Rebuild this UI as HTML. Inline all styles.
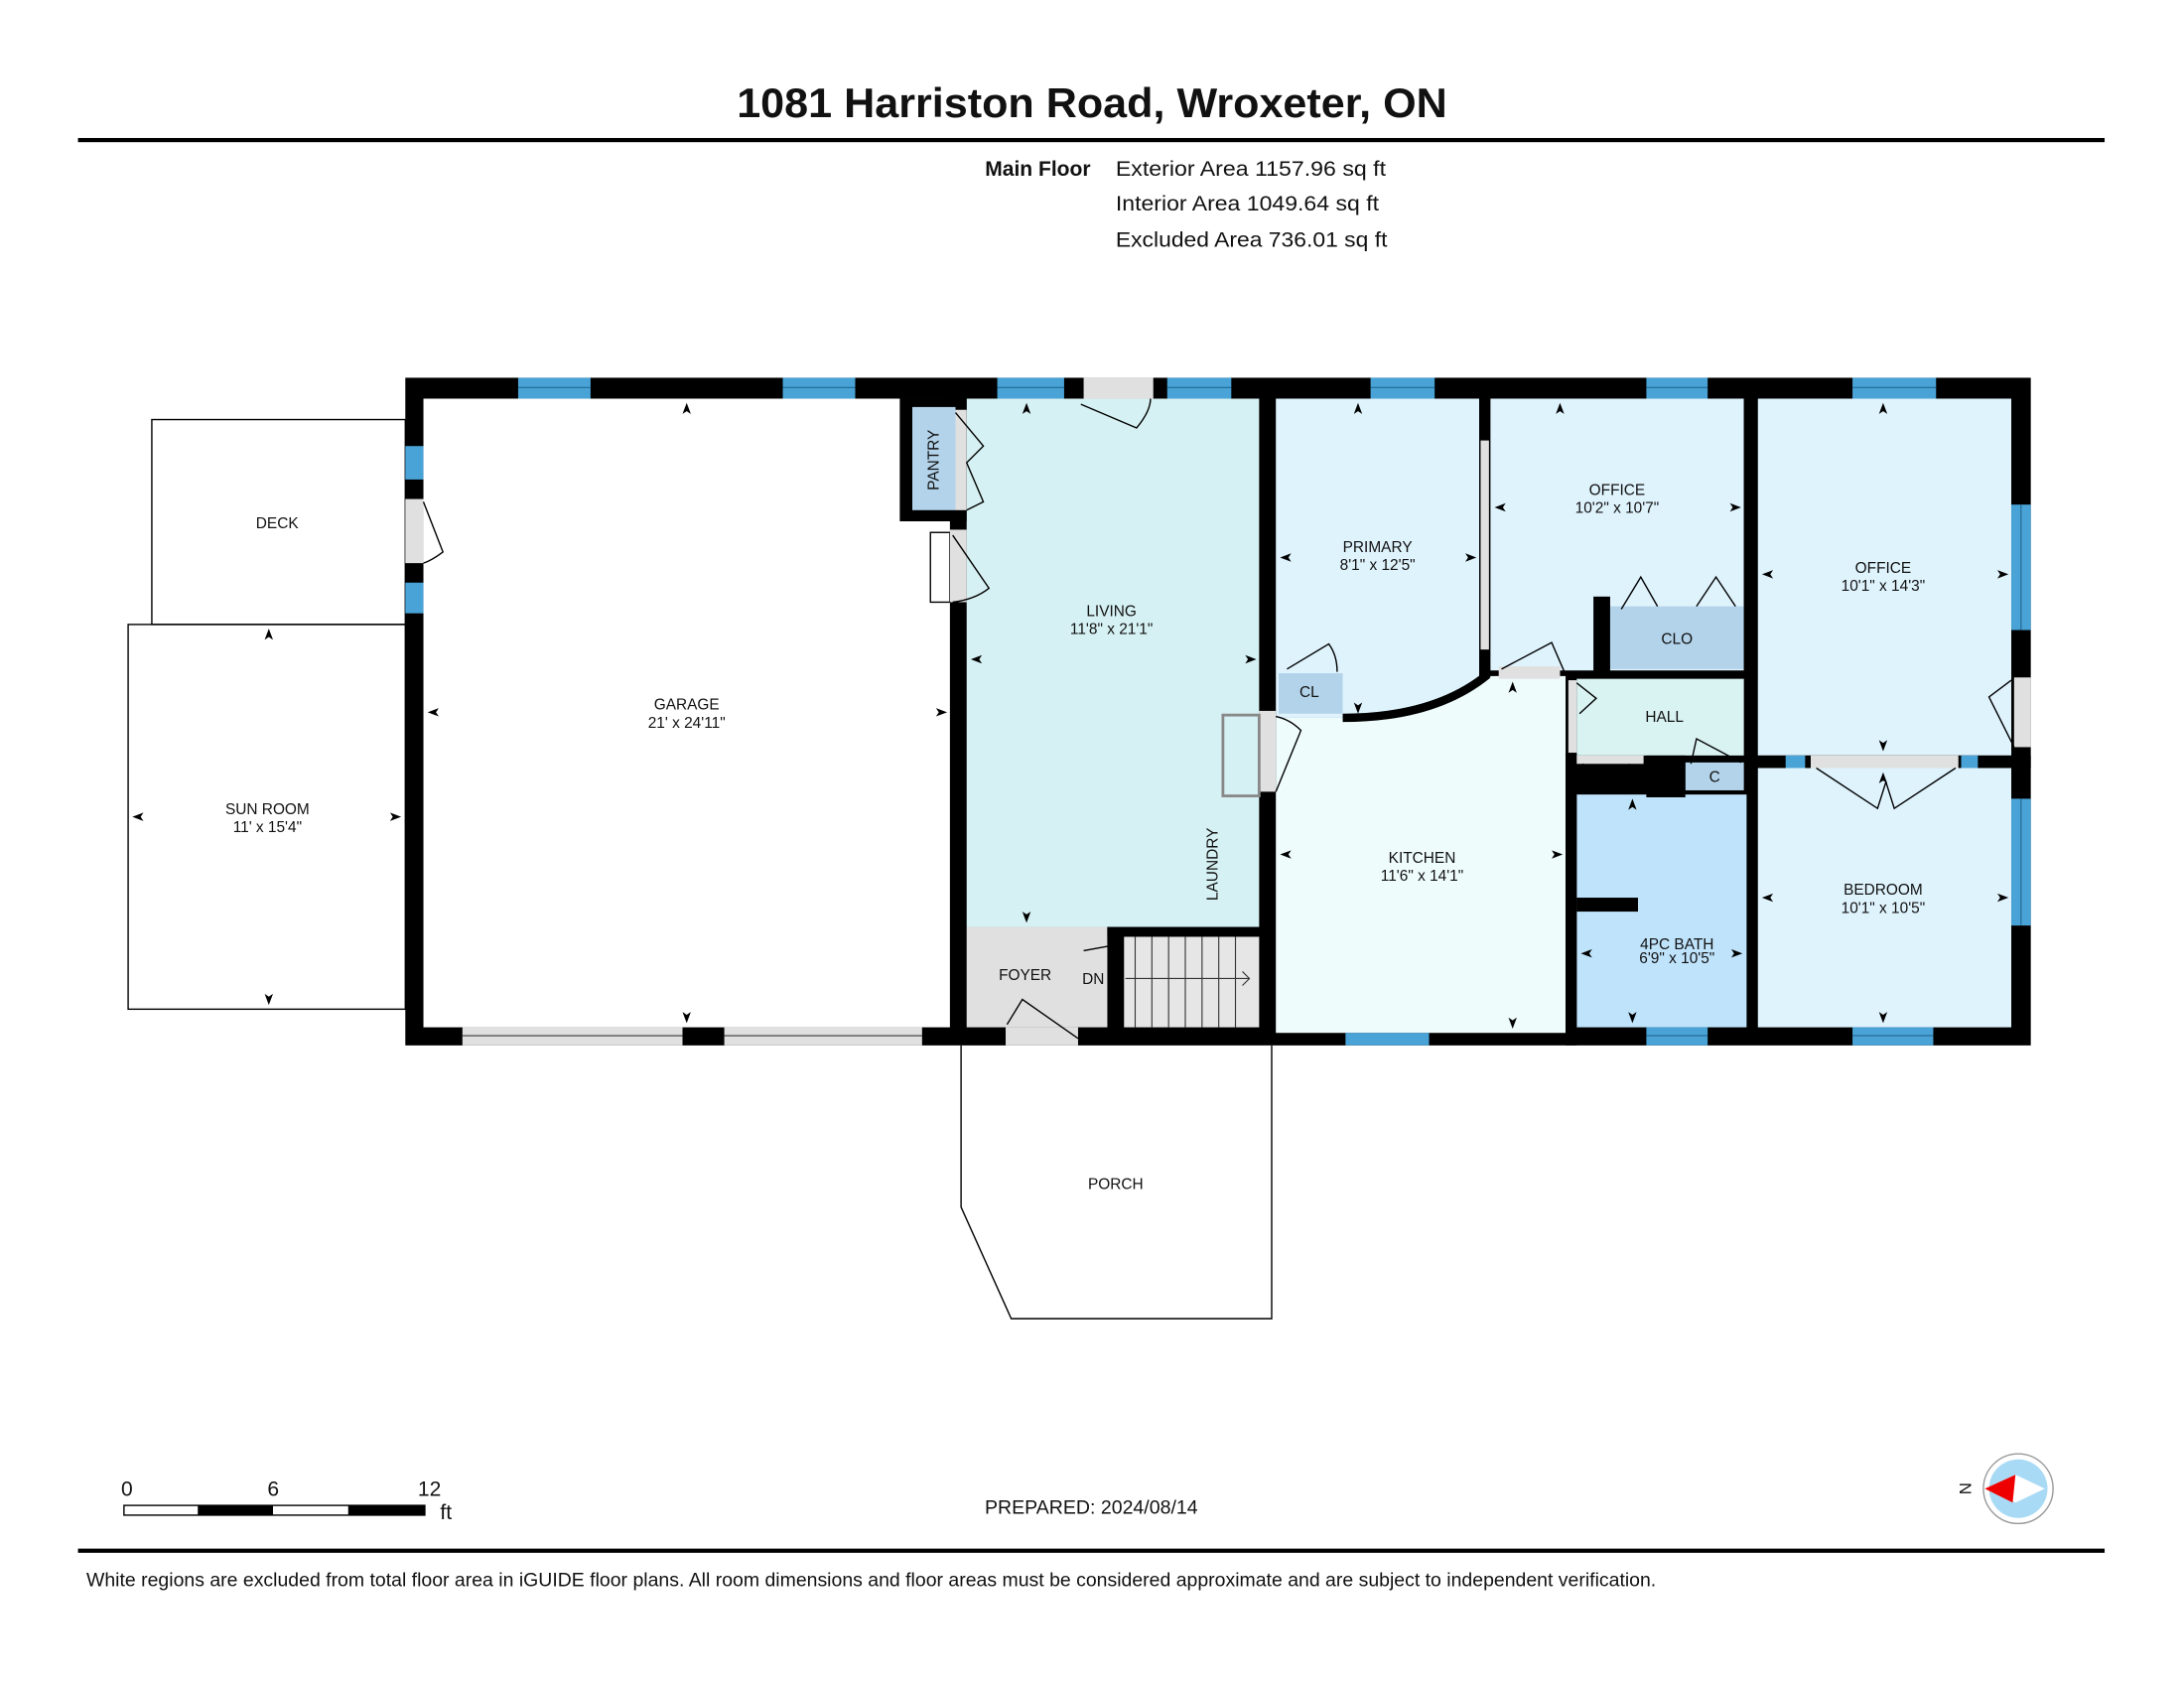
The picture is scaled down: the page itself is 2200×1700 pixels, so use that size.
<!DOCTYPE html>
<html><head><meta charset="utf-8"><style>
html,body{margin:0;padding:0;background:#fff}
svg{display:block}
text{font-family:"Liberation Sans",sans-serif;fill:#111}
.r{font-size:11px;text-anchor:middle}
</style></head><body>
<svg width="2200" height="1700" viewBox="0 0 1568 1211" preserveAspectRatio="none" xmlns="http://www.w3.org/2000/svg">
<rect width="1568" height="1211" fill="#fff"/>
<!-- header -->
<text x="784" y="84" font-size="30" font-weight="bold" text-anchor="middle" textLength="510" lengthAdjust="spacingAndGlyphs">1081 Harriston Road, Wroxeter, ON</text>
<rect x="56" y="99" width="1455" height="3" fill="#000"/>
<text x="783" y="126" font-size="15" font-weight="bold" text-anchor="end">Main Floor</text>
<text x="801" y="126" font-size="15" textLength="194" lengthAdjust="spacingAndGlyphs">Exterior Area 1157.96 sq ft</text>
<text x="801" y="151" font-size="15" textLength="189" lengthAdjust="spacingAndGlyphs">Interior Area 1049.64 sq ft</text>
<text x="801" y="177" font-size="15" textLength="195" lengthAdjust="spacingAndGlyphs">Excluded Area 736.01 sq ft</text>

<!-- excluded outlines -->
<g fill="none" stroke="#000" stroke-width="1">
<rect x="109" y="301" width="182" height="147"/>
<rect x="92" y="448" width="199" height="276"/>
<polyline points="690,750 690,866 726,946 913,946 913,750"/>
</g>

<!-- room fills -->
<rect x="291" y="271" width="1167" height="479" fill="#000"/>
<rect x="304" y="286" width="378" height="451" fill="#fff"/>
<rect x="694" y="286" width="210" height="379" fill="#d6f1f3"/>
<rect x="694" y="665" width="101" height="72" fill="#e0e0e0"/>
<rect x="807" y="672" width="97" height="65" fill="#e6e6e6"/>
<rect x="916" y="286" width="146" height="229" fill="#dff3fd"/>
<rect x="1070" y="286" width="182" height="195" fill="#dff3fd"/>
<rect x="1262" y="286" width="182" height="256" fill="#dff3fd"/>
<rect x="1262" y="551" width="182" height="186" fill="#dff3fd"/>
<path d="M916,515 L968,515 Q1030,515 1070,485 L1124,485 L1124,741 L916,741 Z" fill="#effcfc"/>
<rect x="1132" y="487" width="130" height="55" fill="#d9f2f2"/>
<rect x="1132" y="570" width="122" height="167" fill="#bfe3fb"/>
<rect x="1156" y="435" width="96" height="45" fill="#b3d3ea"/>
<rect x="918" y="483" width="46" height="29" fill="#b3d3ea"/>
<rect x="1210" y="547" width="42" height="20" fill="#b3d3ea"/>
<rect x="646" y="286" width="48" height="88" fill="#000"/>
<rect x="655" y="292" width="31" height="74" fill="#b3d3ea"/>
<!-- interior wall fixes -->
<rect x="1124" y="540" width="8" height="210" fill="#000"/>
<rect x="1132" y="644" width="44" height="10" fill="#000"/>
<rect x="1182" y="542" width="28" height="30" fill="#000"/>
<rect x="1254" y="542" width="8" height="200" fill="#000"/>
<rect x="1062" y="286" width="8" height="200" fill="#000"/>
<rect x="1063" y="316" width="6" height="150" fill="#e0e0e0"/>
<rect x="1144" y="428" width="12" height="57" fill="#000"/>
<path d="M964,515 Q1030,515 1068,484" fill="none" stroke="#000" stroke-width="6"/>
<rect x="1252" y="286" width="10" height="260" fill="#000"/>
<rect x="1262" y="542" width="196" height="9" fill="#000"/>
<rect x="1300" y="542" width="106" height="9" fill="#e0e0e0"/>
<rect x="1076" y="478" width="44" height="9" fill="#e0e0e0"/>
<rect x="1126" y="488" width="6" height="52" fill="#e0e0e0"/>
<rect x="1132" y="542" width="48" height="6" fill="#e0e0e0"/>
<rect x="1446" y="486" width="12" height="50" fill="#e0e0e0"/>
<rect x="904" y="510" width="12" height="58" fill="#e0e0e0"/>
<rect x="878" y="513" width="26" height="58" fill="#d6f1f3" stroke="#888" stroke-width="2"/>
<rect x="291" y="358" width="13" height="46" fill="#e0e0e0"/>
<rect x="668" y="382" width="14" height="50" fill="#fff" stroke="#000" stroke-width="1"/>
<rect x="682" y="380" width="12" height="52" fill="#e0e0e0"/>
<rect x="686" y="294" width="8" height="72" fill="#e0e0e0"/>
<rect x="778" y="271" width="50" height="15" fill="#e0e0e0"/>
<rect x="722" y="737" width="52" height="13" fill="#e0e0e0"/>
<rect x="332" y="737" width="158" height="13" fill="#e0e0e0"/>
<rect x="520" y="737" width="142" height="13" fill="#e0e0e0"/>
<line x1="332" y1="743" x2="490" y2="743" stroke="#555"/>
<line x1="520" y1="743" x2="662" y2="743" stroke="#555"/>
<!-- stairs walls -->
<rect x="795" y="665" width="109" height="7" fill="#000"/>
<rect x="795" y="665" width="7" height="12" fill="#000"/>
<g stroke="#333" stroke-width="0.8">
<line x1="815" y1="672" x2="815" y2="737"/><line x1="827" y1="672" x2="827" y2="737"/>
<line x1="839" y1="672" x2="839" y2="737"/><line x1="851" y1="672" x2="851" y2="737"/>
<line x1="863" y1="672" x2="863" y2="737"/><line x1="875" y1="672" x2="875" y2="737"/>
<line x1="887" y1="672" x2="887" y2="737"/>
<line x1="808" y1="702" x2="897" y2="702"/><polyline points="892,697 897,702 892,707" fill="none"/>
</g>

<!-- windows -->
<g fill="#4aa3d6">
<rect x="372" y="271" width="52" height="15"/><rect x="562" y="271" width="52" height="15"/>
<rect x="716" y="271" width="48" height="15"/><rect x="838" y="271" width="46" height="15"/>
<rect x="984" y="271" width="46" height="15"/><rect x="1182" y="271" width="44" height="15"/>
<rect x="1330" y="271" width="60" height="15"/>
<rect x="966" y="741" width="60" height="9"/><rect x="1182" y="737" width="44" height="13"/>
<rect x="1330" y="737" width="58" height="13"/>
<rect x="1444" y="362" width="14" height="90"/><rect x="1444" y="573" width="14" height="91"/>
<rect x="291" y="320" width="13" height="24"/><rect x="291" y="418" width="13" height="22"/>
<rect x="1282" y="542" width="14" height="9"/><rect x="1408" y="542" width="12" height="9"/>
</g>
<g stroke="#1b5f8a" stroke-width="0.7">
<line x1="372" y1="278" x2="424" y2="278"/><line x1="562" y1="278" x2="614" y2="278"/>
<line x1="716" y1="278" x2="764" y2="278"/><line x1="838" y1="278" x2="884" y2="278"/>
<line x1="984" y1="278" x2="1030" y2="278"/><line x1="1182" y1="278" x2="1226" y2="278"/>
<line x1="1330" y1="278" x2="1390" y2="278"/><line x1="1182" y1="743" x2="1226" y2="743"/>
<line x1="1330" y1="743" x2="1388" y2="743"/><line x1="1451" y1="362" x2="1451" y2="452"/>
<line x1="1451" y1="573" x2="1451" y2="664"/>
</g>

<!-- door swings -->
<g fill="none" stroke="#000" stroke-width="1">
<path d="M776,290 L816,307 Q826,295 826,286"/>
<path d="M304,360 L318,396 Q310,402 304,404"/>
<path d="M686,296 L706,320 L694,332 L706,360 L694,366"/>
<path d="M684,384 L710,422 Q700,430 684,432"/>
<path d="M916,568 L934,524 Q926,516 916,514"/>
<path d="M924,480 L954,462 Q960,470 960,482"/>
<path d="M1078,480 L1114,461 L1124,484"/>
<path d="M1164,437 L1178,414 L1190,435"/>
<path d="M1218,435 L1232,414 L1246,435"/>
<path d="M1132,490 L1146,501 L1134,512"/>
<path d="M1136,548 L1166,568 L1170,548"/>
<path d="M1214,548 L1218,530 L1250,547"/>
<path d="M1444,488 L1428,500 L1446,536"/>
<path d="M1304,551 L1348,580 L1354,561 L1360,580 L1404,551"/>
<path d="M723,735 L734,717 L774,745"/>
<path d="M778,682 L800,678 L802,737"/>
</g>

<!-- arrowheads -->
<g fill="#000">
<path d="M493,289 l-3,8 l3,-2 l3,2z"/><path d="M493,734 l-3,-8 l3,2 l3,-2z"/>
<path d="M307,511 l8,-3 l-2,3 l2,3z"/><path d="M680,511 l-8,-3 l2,3 l-2,3z"/>
<path d="M737,289 l-3,8 l3,-2 l3,2z"/><path d="M737,662 l-3,-8 l3,2 l3,-2z"/>
<path d="M697,473 l8,-3 l-2,3 l2,3z"/><path d="M902,473 l-8,-3 l2,3 l-2,3z"/>
<path d="M975,289 l-3,8 l3,-2 l3,2z"/><path d="M975,512 l-3,-8 l3,2 l3,-2z"/>
<path d="M919,400 l8,-3 l-2,3 l2,3z"/><path d="M1060,400 l-8,-3 l2,3 l-2,3z"/>
<path d="M1120,289 l-3,8 l3,-2 l3,2z"/><path d="M1073,364 l8,-3 l-2,3 l2,3z"/><path d="M1250,364 l-8,-3 l2,3 l-2,3z"/>
<path d="M1352,289 l-3,8 l3,-2 l3,2z"/><path d="M1352,539 l-3,-8 l3,2 l3,-2z"/>
<path d="M1265,412 l8,-3 l-2,3 l2,3z"/><path d="M1442,412 l-8,-3 l2,3 l-2,3z"/>
<path d="M1352,554 l-3,8 l3,-2 l3,2z"/><path d="M1352,734 l-3,-8 l3,2 l3,-2z"/>
<path d="M1265,644 l8,-3 l-2,3 l2,3z"/><path d="M1442,644 l-8,-3 l2,3 l-2,3z"/>
<path d="M1086,489 l-3,8 l3,-2 l3,2z"/><path d="M1086,738 l-3,-8 l3,2 l3,-2z"/>
<path d="M919,613 l8,-3 l-2,3 l2,3z"/><path d="M1122,613 l-8,-3 l2,3 l-2,3z"/>
<path d="M1135,684 l8,-3 l-2,3 l2,3z"/><path d="M1251,684 l-8,-3 l2,3 l-2,3z"/>
<path d="M1172,573 l-3,8 l3,-2 l3,2z"/><path d="M1172,734 l-3,-8 l3,2 l3,-2z"/>
<path d="M193,451 l-3,8 l3,-2 l3,2z"/><path d="M193,721 l-3,-8 l3,2 l3,-2z"/>
<path d="M95,586 l8,-3 l-2,3 l2,3z"/><path d="M288,586 l-8,-3 l2,3 l-2,3z"/>
</g>

<!-- labels -->
<text class="r" x="199" y="379">DECK</text>
<text class="r" x="192" y="584">SUN ROOM</text><text class="r" x="192" y="597" font-size="10">11' x 15'4"</text>
<text class="r" x="493" y="509">GARAGE</text><text class="r" x="493" y="522" font-size="10">21' x 24'11"</text>
<text class="r" x="798" y="442">LIVING</text><text class="r" x="798" y="455" font-size="10">11'8" x 21'1"</text>
<text class="r" transform="translate(674,330) rotate(-90)">PANTRY</text>
<text class="r" transform="translate(874,620) rotate(-90)">LAUNDRY</text>
<text class="r" x="736" y="703">FOYER</text>
<text x="777" y="706" font-size="11">DN</text>
<text class="r" x="989" y="396">PRIMARY</text><text class="r" x="989" y="409" font-size="10">8'1" x 12'5"</text>
<text class="r" x="1161" y="355">OFFICE</text><text class="r" x="1161" y="368" font-size="10">10'2" x 10'7"</text>
<text class="r" x="1352" y="411">OFFICE</text><text class="r" x="1352" y="424" font-size="10">10'1" x 14'3"</text>
<text class="r" x="1204" y="462">CLO</text>
<text class="r" x="940" y="500">CL</text>
<text class="r" x="1195" y="518">HALL</text>
<text class="r" x="1231" y="561">C</text>
<text class="r" x="1021" y="619">KITCHEN</text><text class="r" x="1021" y="632" font-size="10">11'6" x 14'1"</text>
<text class="r" x="1352" y="642">BEDROOM</text><text class="r" x="1352" y="655" font-size="10">10'1" x 10'5"</text>
<text class="r" x="1204" y="681" font-size="9">4PC BATH</text><text class="r" x="1204" y="691" font-size="9">6'9" x 10'5"</text>
<text class="r" x="801" y="853">PORCH</text>

<!-- scale bar -->
<text x="87" y="1073" font-size="15">0</text><text x="192" y="1073" font-size="15">6</text><text x="300" y="1073" font-size="15">12</text>
<text x="316" y="1090" font-size="15">ft</text>
<rect x="89" y="1080" width="216" height="7" fill="#fff" stroke="#000" stroke-width="1"/>
<rect x="142" y="1080" width="54" height="7" fill="#000"/><rect x="250" y="1080" width="55" height="7" fill="#000"/>
<text x="707" y="1086" font-size="13.5" textLength="153" lengthAdjust="spacingAndGlyphs">PREPARED: 2024/08/14</text>
<!-- compass -->
<circle cx="1449" cy="1068" r="25" fill="#fff" stroke="#999" stroke-width="1"/>
<circle cx="1449" cy="1068" r="21" fill="#a9daf5"/>
<path d="M1425,1068 L1447,1058 L1468,1068 L1447,1078 Z" fill="#fff"/>
<path d="M1425,1068 L1447,1058 L1445,1078 Z" fill="#e00"/>
<text x="1412" y="1073" font-size="12" transform="rotate(90 1412 1068)" text-anchor="middle">N</text>
<!-- footer -->
<rect x="56" y="1111" width="1455" height="3" fill="#000"/>
<text x="62" y="1138" font-size="13.5" textLength="1127" lengthAdjust="spacingAndGlyphs">White regions are excluded from total floor area in iGUIDE floor plans. All room dimensions and floor areas must be considered approximate and are subject to independent verification.</text>
</svg>
</body></html>
